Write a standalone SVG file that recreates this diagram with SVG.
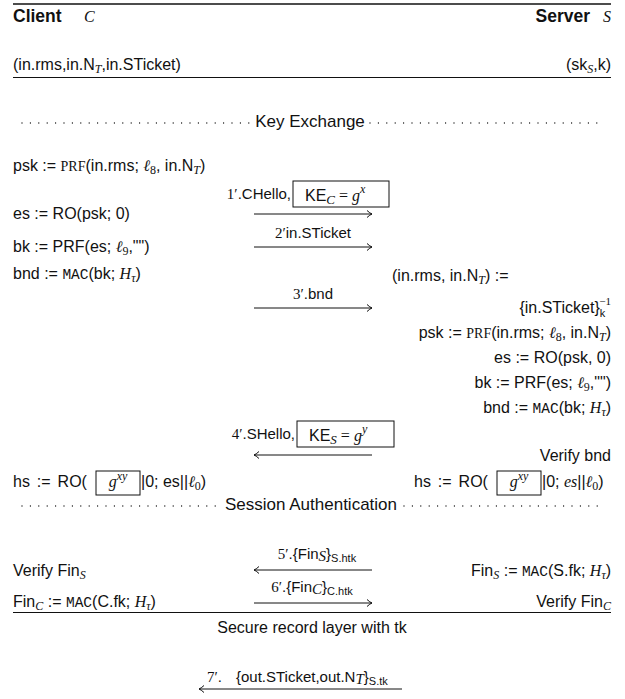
<svg xmlns="http://www.w3.org/2000/svg" width="625" height="699" viewBox="0 0 625 699">
<defs>
<style>
.t{font-family:"Liberation Sans","DejaVu Sans",sans-serif;font-size:16px;fill:#111}
.b{font-weight:bold;font-size:17.5px}
.m{font-family:"Liberation Serif",serif;font-style:italic}
.r{font-family:"Liberation Serif",serif;font-style:normal}
.tt{font-family:"Liberation Mono",monospace;font-size:14.5px}
.sc{font-family:"Liberation Serif",serif;font-size:14px}
.lb{font-family:"Liberation Sans","DejaVu Sans",sans-serif;font-size:15px;fill:#111}
.sep{font-size:17px}
.rule{stroke:#111;stroke-width:1}
.dots{stroke:#111;stroke-width:1.3;stroke-linecap:round;stroke-dasharray:0 8.4}
.arr{stroke:#111;stroke-width:1;fill:none}
.box{stroke:#111;stroke-width:1;fill:none}
</style>
<marker id="ah" markerWidth="10" markerHeight="10" refX="9" refY="5" orient="auto" markerUnits="userSpaceOnUse">
<path d="M4,1.5 Q7,4.3 9,5 Q7,5.7 4,8.5" fill="none" stroke="#111" stroke-width="1"/>
</marker>
</defs>
<rect width="625" height="699" fill="#fff"/>

<g id="header">
<line class="rule" x1="13" y1="4" x2="611" y2="4" style="stroke-width:1.6"/>
<text class="t b" x="13" y="22">Client</text>
<text class="t m" x="84" y="22" font-size="17">C</text>
<text class="t b" x="590" y="22" text-anchor="end">Server</text>
<text class="t m" x="611" y="22" font-size="17" text-anchor="end">S</text>
<text class="t" x="13" y="70">(in.rms,in.N<tspan class="m" font-size="12" dy="3">T</tspan><tspan dy="-3">,in.STicket)</tspan></text>
<text class="t" x="611" y="70" text-anchor="end">(sk<tspan class="m" font-size="12" dy="3">S</tspan><tspan dy="-3">,k)</tspan></text>
<line class="rule" x1="13" y1="77.5" x2="611" y2="77.5"/>
</g>

<g id="sep-key-exchange">
<line class="dots" x1="22" y1="123" x2="250" y2="123"/>
<text class="t sep" x="310" y="127" text-anchor="middle">Key Exchange</text>
<line class="dots" x1="370" y1="123" x2="604" y2="123"/>
</g>

<g id="client-ke">
<text class="t" x="13" y="171">psk := <tspan class="sc">PRF</tspan>(in.rms; <tspan class="m">ℓ</tspan><tspan class="r" font-size="12" dy="3">8</tspan><tspan dy="-3">, in.N</tspan><tspan class="m" font-size="12" dy="3">T</tspan><tspan dy="-3">)</tspan></text>
<text class="t" x="13" y="219">es := RO(psk; 0)</text>
<text class="t" x="13" y="252">bk := PRF(es; <tspan class="m">ℓ</tspan><tspan class="r" font-size="12" dy="3">9</tspan><tspan dy="-3">,"")</tspan></text>
<text class="t" x="13" y="279">bnd := <tspan class="tt">MAC</tspan>(bk; <tspan class="m">H</tspan><tspan class="m" font-size="12" dy="3">τ</tspan><tspan dy="-3">)</tspan></text>
</g>

<g id="server-ke">
<text class="t" x="392" y="281">(in.rms, in.N<tspan class="m" font-size="12" dy="3">T</tspan><tspan dy="-3">) :=</tspan></text>
<text class="t" x="611" y="313" text-anchor="end">{in.STicket}<tspan font-size="11" dy="4">k</tspan><tspan class="r" font-size="11" dx="-6" dy="-12">−1</tspan></text>
<text class="t" x="611" y="338" text-anchor="end">psk := <tspan class="sc">PRF</tspan>(in.rms; <tspan class="m">ℓ</tspan><tspan class="r" font-size="12" dy="3">8</tspan><tspan dy="-3">, in.N</tspan><tspan class="m" font-size="12" dy="3">T</tspan><tspan dy="-3">)</tspan></text>
<text class="t" x="611" y="363" text-anchor="end">es := RO(psk, 0)</text>
<text class="t" x="611" y="388" text-anchor="end">bk := PRF(es; <tspan class="m">ℓ</tspan><tspan class="r" font-size="12" dy="3">9</tspan><tspan dy="-3">,"")</tspan></text>
<text class="t" x="611" y="413" text-anchor="end">bnd := <tspan class="tt">MAC</tspan>(bk; <tspan class="m">H</tspan><tspan class="m" font-size="12" dy="3">τ</tspan><tspan dy="-3">)</tspan></text>
<text class="t" x="611" y="461" text-anchor="end">Verify bnd</text>
</g>

<g id="hs-client">
<text class="t" x="13" y="487" font-size="17" word-spacing="2.5">hs := RO(</text>
<rect class="box" x="96" y="471" width="44" height="24"/>
<text class="t m" x="118" y="487" text-anchor="middle" font-size="18">g<tspan font-size="12" dy="-7">xy</tspan></text>
<text class="t" x="141" y="487" font-size="17">|0; es||<tspan class="m">ℓ</tspan><tspan class="r" font-size="12" dy="3">0</tspan><tspan dy="-3">)</tspan></text>
</g>

<g id="hs-server">
<text class="t" x="414" y="487" font-size="17" word-spacing="2.5">hs := RO(</text>
<rect class="box" x="497" y="471" width="44" height="24"/>
<text class="t m" x="519" y="487" text-anchor="middle" font-size="18">g<tspan font-size="12" dy="-7">xy</tspan></text>
<text class="t" x="542" y="487" font-size="17">|0; <tspan class="m">es</tspan>||<tspan class="m">ℓ</tspan><tspan class="r" font-size="12" dy="3">0</tspan><tspan dy="-3">)</tspan></text>
</g>

<g id="sep-session-auth">
<line class="dots" x1="22" y1="506" x2="218" y2="506"/>
<text class="t sep" x="311" y="510" text-anchor="middle">Session Authentication</text>
<line class="dots" x1="404" y1="506" x2="604" y2="506"/>
</g>

<g id="fin">
<text class="t" x="13" y="576">Verify Fin<tspan class="m" font-size="12" dy="3">S</tspan></text>
<text class="t" x="611" y="576" text-anchor="end">Fin<tspan class="m" font-size="12" dy="3">S</tspan><tspan dy="-3"> := </tspan><tspan class="tt">MAC</tspan>(S.fk; <tspan class="m">H</tspan><tspan class="m" font-size="12" dy="3">τ</tspan><tspan dy="-3">)</tspan></text>
<text class="t" x="13" y="607">Fin<tspan class="m" font-size="12" dy="3">C</tspan><tspan dy="-3"> := </tspan><tspan class="tt">MAC</tspan>(C.fk; <tspan class="m">H</tspan><tspan class="m" font-size="12" dy="3">τ</tspan><tspan dy="-3">)</tspan></text>
<text class="t" x="611" y="607" text-anchor="end">Verify Fin<tspan class="m" font-size="12" dy="3">C</tspan></text>
<line class="rule" x1="13" y1="612.5" x2="611" y2="612.5"/>
</g>

<g id="record-layer">
<text class="t" x="312" y="633" text-anchor="middle">Secure record layer with tk</text>
</g>

<g id="msg-labels">
<text class="lb" x="291" y="199" text-anchor="end"><tspan class="r">1′</tspan>.CHello,</text>
<rect class="box" x="293" y="181" width="96" height="26"/>
<text class="t" x="305" y="201" font-size="19">KE<tspan class="m" font-size="13" dy="3">C</tspan><tspan class="r" dy="-3"> = </tspan><tspan class="m">g</tspan><tspan class="m" font-size="12" dy="-8">x</tspan></text>
<text class="lb" x="313" y="238" text-anchor="middle"><tspan class="r">2′</tspan>in.STicket</text>
<text class="lb" x="313" y="299" text-anchor="middle"><tspan class="r">3′</tspan>.bnd</text>
<text class="lb" x="295" y="439" text-anchor="end"><tspan class="r">4′</tspan>.SHello,</text>
<rect class="box" x="297" y="421" width="97" height="26"/>
<text class="t" x="309" y="441" font-size="19">KE<tspan class="m" font-size="13" dy="3">S</tspan><tspan class="r" dy="-3"> = </tspan><tspan class="m">g</tspan><tspan class="m" font-size="12" dy="-8">y</tspan></text>
<text class="lb" x="317" y="559" text-anchor="middle"><tspan class="r">5′</tspan>.{Fin<tspan class="m" dy="2">S</tspan><tspan dy="-2">}</tspan><tspan font-size="11" dy="3">S.htk</tspan></text>
<text class="lb" x="312" y="592" text-anchor="middle"><tspan class="r">6′</tspan>.{Fin<tspan class="m" dy="2">C</tspan><tspan dy="-2">}</tspan><tspan font-size="11" dy="3">C.htk</tspan></text>
<text class="lb" x="207" y="682"><tspan class="r">7′</tspan>.<tspan dx="14">{out.STicket,out.N</tspan><tspan class="m" dy="2">T</tspan><tspan dy="-2">}</tspan><tspan font-size="11" dy="3">S.tk</tspan></text>
</g>

<g id="connectors">
<line class="arr" x1="254" y1="214" x2="372" y2="214" marker-end="url(#ah)"/>
<line class="arr" x1="254" y1="247" x2="372" y2="247" marker-end="url(#ah)"/>
<line class="arr" x1="254" y1="308" x2="372" y2="308" marker-end="url(#ah)"/>
<line class="arr" x1="372" y1="455" x2="254" y2="455" marker-end="url(#ah)"/>
<line class="arr" x1="372" y1="570" x2="254" y2="570" marker-end="url(#ah)"/>
<line class="arr" x1="254" y1="603" x2="372" y2="603" marker-end="url(#ah)"/>
<line class="arr" x1="402" y1="689" x2="199" y2="689" marker-end="url(#ah)"/>
</g>
</svg>
